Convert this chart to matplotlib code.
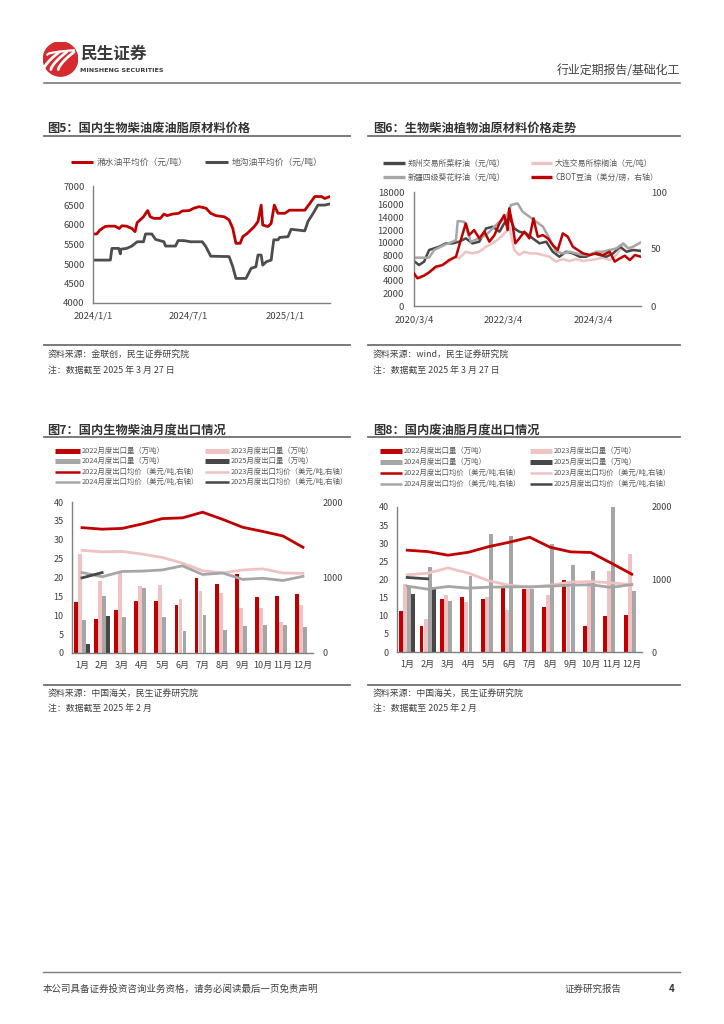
import numpy as np
import pandas as pd
import matplotlib
matplotlib.use("Agg")
import matplotlib.pyplot as plt
from matplotlib.lines import Line2D
from matplotlib.patches import Circle

plt.rcParams["font.family"] = ["Noto Sans CJK SC", "DejaVu Sans"]

RED = "#c00000"
PINK = "#efc3c3"
GRAY = "#a6a6a6"
DARK = "#474747"
TXT = "#404040"

# ---------------- 图5 data (元/吨) ----------------
red5_dates = ["2024-01-01", "2024-01-08", "2024-01-14", "2024-01-24", "2024-01-30", "2024-02-12",
              "2024-02-20", "2024-02-25", "2024-03-05", "2024-03-15", "2024-03-21", "2024-03-25",
              "2024-04-06", "2024-04-14", "2024-04-19", "2024-04-26", "2024-05-08", "2024-05-15",
              "2024-05-21", "2024-05-31", "2024-06-12", "2024-06-19", "2024-07-02", "2024-07-11",
              "2024-07-21", "2024-08-03", "2024-08-12", "2024-08-22", "2024-09-07", "2024-09-16",
              "2024-09-23", "2024-09-29", "2024-10-07", "2024-10-12", "2024-10-21", "2024-11-03",
              "2024-11-10", "2024-11-16", "2024-11-19", "2024-11-29", "2024-12-05", "2024-12-11",
              "2024-12-18", "2024-12-31", "2025-01-09", "2025-02-07", "2025-02-17", "2025-02-26",
              "2025-03-11", "2025-03-17", "2025-03-27"]
red5_vals = [5770, 5770, 5870, 5960, 5970, 5970, 5910, 5980, 5970, 5910,
             5830, 6060, 6210, 6370, 6210, 6170, 6170, 6280, 6240, 6280,
             6300, 6360, 6370, 6430, 6470, 6430, 6300, 6240, 6210, 6130,
             5910, 5530, 5530, 5700, 5790, 5960, 6090, 6510, 6000, 5960,
             6040, 6510, 6300, 6300, 6380, 6380, 6560, 6730, 6730, 6680, 6730]
dark5_dates = ["2024-01-01", "2024-02-03", "2024-02-06", "2024-02-19", "2024-02-22", "2024-02-23",
               "2024-03-05", "2024-03-15", "2024-03-25", "2024-04-06", "2024-04-10", "2024-04-22",
               "2024-04-29", "2024-05-15", "2024-05-18", "2024-06-06", "2024-06-11", "2024-06-22",
               "2024-07-05", "2024-07-27", "2024-08-03", "2024-08-12", "2024-09-16", "2024-09-23",
               "2024-09-29", "2024-10-18", "2024-10-28", "2024-11-06", "2024-11-10", "2024-11-16",
               "2024-11-19", "2024-11-26", "2024-12-05", "2024-12-10", "2024-12-18", "2024-12-21",
               "2025-01-06", "2025-01-12", "2025-02-07", "2025-02-13", "2025-02-23", "2025-03-04",
               "2025-03-17", "2025-03-27"]
dark5_vals = [5100, 5100, 5400, 5400, 5260, 5380, 5400, 5460, 5570, 5570,
              5770, 5770, 5630, 5570, 5460, 5460, 5600, 5600, 5570, 5570,
              5440, 5200, 5190, 4930, 4630, 4630, 4890, 4930, 5230, 5230,
              4970, 5060, 5100, 5620, 5620, 5680, 5700, 5890, 5850, 6090,
              6300, 6510, 6510, 6540]

# ---------------- 图6 data ----------------
zz_dates = ["2020-03-04", "2020-04-14", "2020-05-25", "2020-07-05", "2020-08-15", "2020-09-25",
            "2020-11-19", "2021-01-13", "2021-03-07", "2021-04-30", "2021-06-24", "2021-08-18",
            "2021-10-12", "2021-12-05", "2022-01-29", "2022-03-09", "2022-04-19", "2022-05-30",
            "2022-07-10", "2022-09-03", "2022-10-27", "2022-12-21", "2023-02-14", "2023-04-08",
            "2023-06-01", "2023-07-26", "2023-09-19", "2023-11-13", "2024-01-07", "2024-03-02",
            "2024-04-25", "2024-06-18", "2024-08-12", "2024-10-06", "2024-11-29", "2025-01-22",
            "2025-03-27"]
zz_vals = [7100, 6470, 7000, 8840, 9100, 9360, 9890, 9890, 10150, 10680,
           9890, 10150, 12250, 12520, 11730, 13040, 14100, 12250, 11730, 11470,
           10680, 9890, 10150, 8570, 7780, 8570, 8310, 7780, 7780, 8310,
           8050, 7780, 8310, 9360, 8570, 8840, 8680]
xj_dates = ["2020-03-04", "2020-07-05", "2020-08-15", "2020-11-05", "2021-01-13", "2021-02-09",
            "2021-02-23", "2021-04-17", "2021-05-14", "2021-06-10", "2021-08-18", "2021-10-12",
            "2021-12-05", "2022-01-29", "2022-03-23", "2022-05-03", "2022-06-26", "2022-08-06",
            "2022-09-30", "2022-11-24", "2023-01-18", "2023-03-12", "2023-05-05", "2023-06-29",
            "2023-08-22", "2023-10-16", "2023-12-10", "2024-02-04", "2024-03-28", "2024-05-22",
            "2024-07-15", "2024-09-08", "2024-11-02", "2024-12-12", "2025-01-22", "2025-03-27"]
xj_vals = [7630, 7630, 8840, 9630, 10150, 10420, 13410, 13310, 11730, 10150,
           10680, 11200, 12250, 13310, 13830, 15940, 16200, 14890, 14100, 13310,
           12520, 10680, 8570, 8310, 8570, 8310, 8050, 8050, 8570, 8570,
           8840, 9100, 9890, 9100, 9360, 10050]
dl_dates = ["2020-03-04", "2020-04-14", "2020-05-25", "2020-07-05", "2020-08-28", "2020-10-22",
            "2020-12-15", "2021-01-26", "2021-03-07", "2021-04-30", "2021-06-24", "2021-08-18",
            "2021-10-12", "2021-12-05", "2022-01-29", "2022-03-23", "2022-04-19", "2022-05-30",
            "2022-07-10", "2022-08-20", "2022-09-30", "2022-11-24", "2023-01-18", "2023-03-12",
            "2023-05-05", "2023-06-29", "2023-08-22", "2023-10-16", "2023-12-10", "2024-02-04",
            "2024-03-28", "2024-05-22", "2024-07-15", "2024-09-08", "2024-11-02", "2024-12-12",
            "2025-01-22", "2025-03-27"]
dl_vals = [5000, 4370, 4890, 5310, 5940, 6470, 7000, 7780, 7520, 8570,
           8310, 8570, 9360, 9890, 10680, 11730, 12520, 8840, 8050, 8570,
           8310, 8310, 8050, 7780, 7000, 7420, 7100, 7420, 7100, 7260,
           7420, 7630, 7260, 8050, 9730, 9100, 8840, 8840]
cbot_dates = ["2020-03-04", "2020-04-01", "2020-05-25", "2020-07-05", "2020-08-28", "2020-10-22",
              "2020-12-15", "2021-02-09", "2021-03-20", "2021-04-30", "2021-05-27", "2021-07-07",
              "2021-08-18", "2021-09-28", "2021-11-08", "2021-12-19", "2022-01-29", "2022-03-09",
              "2022-04-06", "2022-04-19", "2022-05-16", "2022-06-07", "2022-07-10", "2022-08-20",
              "2022-09-30", "2022-11-02", "2022-12-07", "2023-01-18", "2023-02-28", "2023-04-08",
              "2023-05-19", "2023-06-29", "2023-08-08", "2023-09-19", "2023-10-30", "2023-12-10",
              "2024-02-04", "2024-03-28", "2024-05-22", "2024-07-15", "2024-08-25", "2024-10-06",
              "2024-11-15", "2024-12-26", "2025-02-05", "2025-03-27"]
cbot_vals = [28.6, 24.3, 26.6, 29.5, 34.5, 35.9, 40.3, 43.2, 57.9, 72.5,
             62.2, 66.6, 59.3, 65.2, 56.4, 62.2, 72.5, 79.8, 66.6, 85.6,
             71.0, 55.0, 59.3, 65.2, 59.3, 76.9, 60.8, 62.2, 59.3, 53.5,
             49.1, 63.7, 60.8, 52.0, 49.1, 46.2, 44.7, 46.2, 44.7, 47.6,
             38.9, 41.8, 44.1, 40.3, 44.7, 43.2]

# ---------------- 图7 / 图8 data ----------------
months = [f"{i}月" for i in range(1, 13)]
years = ["2022", "2023", "2024", "2025"]

bio_qty = {
    "2022": [13.5, 9.0, 11.5, 13.7, 13.7, 12.8, 19.8, 18.3, 21.0, 14.8, 15.1, 15.7],
    "2023": [26.2, 19.2, 21.3, 17.8, 18.1, 14.4, 16.3, 16.0, 11.9, 11.8, 8.3, 12.8],
    "2024": [8.8, 15.0, 9.5, 17.3, 9.5, 5.7, 10.0, 6.0, 7.1, 7.5, 7.3, 7.0],
    "2025": [2.5, 9.8],
}
bio_price = {
    "2022": [1660, 1640, 1650, 1710, 1780, 1790, 1865, 1770, 1665, 1610, 1550, 1400],
    "2023": [1360, 1340, 1345, 1310, 1265, 1190, 1090, 1060, 1100, 1115, 1060, 1055],
    "2024": [1065, 1010, 1080, 1085, 1100, 1155, 1040, 1060, 975, 990, 960, 1015],
    "2025": [995, 1065],
}
waste_qty = {
    "2022": [11.2, 7.3, 14.7, 15.3, 14.5, 17.6, 17.3, 12.4, 19.8, 7.2, 9.9, 10.3],
    "2023": [18.7, 9.2, 15.7, 13.9, 15.1, 11.7, 17.3, 15.7, 19.4, 19.4, 22.4, 27.1],
    "2024": [18.2, 23.5, 14.0, 20.9, 32.6, 32.0, 17.3, 29.9, 23.9, 22.4, 40.3, 16.9],
    "2025": [16.1, 17.9],
}
waste_price = {
    "2022": [1404, 1385, 1335, 1376, 1454, 1514, 1583, 1445, 1381, 1372, 1225, 1073],
    "2023": [1064, 1087, 1160, 1087, 982, 922, 894, 922, 963, 972, 954, 927],
    "2024": [908, 867, 904, 881, 894, 899, 899, 908, 922, 927, 890, 931],
    "2025": [1028, 1009],
}
year_colors = {"2022": RED, "2023": PINK, "2024": GRAY, "2025": DARK}

W, H = 724, 1024
fig = plt.figure(figsize=(W / 100, H / 100), dpi=100)


def box(l, t, r, b):
    return [l / W, 1 - b / H, (r - l) / W, (b - t) / H]


def text(x, y, s, **kw):
    kw.setdefault("va", "center")
    fig.text(x / W, 1 - y / H, s, **kw)


def hline(x0, x1, y, color="#6f6f6f", lw=1.3):
    fig.add_artist(Line2D([x0 / W, x1 / W], [1 - y / H] * 2, color=color, lw=lw))


def legend_item(x0, x1, y, color, lw, label, size, gap=3):
    fig.add_artist(Line2D([x0 / W, x1 / W], [1 - y / H] * 2, color=color, lw=lw,
                          solid_capstyle="butt"))
    text(x1 + gap, y, label, fontsize=size, color="#595959")


def style(ax, size=6.6, pad=7):
    for s in ["top", "right"]:
        ax.spines[s].set_visible(False)
    for s in ["left", "bottom"]:
        ax.spines[s].set_color("#808080")
        ax.spines[s].set_linewidth(1.0)
    ax.tick_params(length=0, labelsize=size, labelcolor=TXT, pad=pad)


# ---------------- header ----------------
logo = fig.add_axes(box(43, 41, 78, 77))
logo.set_xlim(-1, 1)
logo.set_ylim(-1, 1)
logo.set_aspect("equal")
logo.axis("off")
logo.add_patch(Circle((0, 0), 0.98, color="#d52b2f"))
t = np.linspace(0, 1, 30)
for off in [-0.42, 0.0, 0.42]:
    logo.plot(-0.55 + 0.9 * t + off, -0.6 + 1.0 * t ** 0.7, color="white", lw=2.0,
              solid_capstyle="round")
logo.plot(-0.75 + 1.5 * t, 0.25 + 0.25 * t ** 0.5, color="white", lw=1.6)
text(80, 54, "民生证券", fontsize=12, fontweight="bold", color="#3a3a3a")
text(80, 71, "MINSHENG SECURITIES", fontsize=4.6, fontweight="bold", color="#3a3a3a",
     family="DejaVu Sans")
text(680, 71, "行业定期报告/基础化工", fontsize=8.6, color="#444444", ha="right")
hline(44, 680, 83, color="#7a7a7a", lw=1.2)

# ---------------- titles ----------------
text(47, 128, "图5：国内生物柴油废油脂原材料价格", fontsize=8.8, fontweight="bold", color="#333333")
hline(44, 350, 136)
text(373, 128, "图6：生物柴油植物油原材料价格走势", fontsize=8.8, fontweight="bold", color="#333333")
hline(368, 680, 136)
text(47, 430, "图7：国内生物柴油月度出口情况", fontsize=8.8, fontweight="bold", color="#333333")
hline(44, 350, 437)
text(373, 430, "图8：国内废油脂月度出口情况", fontsize=8.8, fontweight="bold", color="#333333")
hline(368, 680, 437)

# ---------------- 图5 ----------------
ax5 = fig.add_axes(box(93, 186, 330, 303))
ax5.plot(pd.to_datetime(red5_dates), red5_vals, color=RED, lw=2.0)
ax5.plot(pd.to_datetime(dark5_dates), dark5_vals, color="#4d4d4d", lw=2.0)
ax5.set_ylim(4000, 7000)
ax5.set_yticks(range(4000, 7001, 500))
ax5.set_xlim(pd.Timestamp("2024-01-01"), pd.Timestamp("2025-03-27"))
ax5.set_xticks(pd.to_datetime(["2024-01-01", "2024-07-01", "2025-01-01"]))
ax5.set_xticklabels(["2024/1/1", "2024/7/1", "2025/1/1"])
style(ax5, size=6.8, pad=6)
legend_item(71, 93, 162, RED, 2.2, "潲水油平均价（元/吨）", 6.3, gap=4)
legend_item(205, 228, 162, "#4d4d4d", 2.2, "地沟油平均价（元/吨）", 6.3, gap=4)

# ---------------- 图6 ----------------
ax6 = fig.add_axes(box(414, 192, 641, 306))
ax6.plot(pd.to_datetime(dl_dates), dl_vals, color=PINK, lw=1.8)
ax6.plot(pd.to_datetime(zz_dates), zz_vals, color=DARK, lw=1.8)
ax6.plot(pd.to_datetime(xj_dates), xj_vals, color=GRAY, lw=1.8)
ax6.set_ylim(0, 18000)
ax6.set_yticks(range(0, 18001, 2000))
ax6.set_xlim(pd.Timestamp("2020-03-04"), pd.Timestamp("2025-03-27"))
ax6.set_xticks(pd.to_datetime(["2020-03-04", "2022-03-04", "2024-03-04"]))
ax6.set_xticklabels(["2020/3/4", "2022/3/4", "2024/3/4"])
style(ax6, size=6.8, pad=7)
ax6r = ax6.twinx()
ax6r.plot(pd.to_datetime(cbot_dates), cbot_vals, color=RED, lw=1.8)
ax6r.set_ylim(0, 100)
ax6r.set_yticks([0, 50, 100])
for s in ax6r.spines.values():
    s.set_visible(False)
ax6r.tick_params(length=0, labelsize=6.8, labelcolor=TXT, pad=7)
legend_item(383, 405, 163, DARK, 2.4, "郑州交易所菜籽油（元/吨）", 5.7)
legend_item(531, 552, 163, PINK, 2.4, "大连交易所棕榈油（元/吨）", 5.7)
legend_item(383, 405, 177, GRAY, 2.4, "新疆四级葵花籽油（元/吨）", 5.7)
legend_item(531, 552, 177, RED, 2.4, "CBOT豆油（美分/磅，右轴）", 5.7)


# ---------------- 图7 / 图8 ----------------
def export_chart(rect, qty, price, leg_x, leg_y):
    ax = fig.add_axes(box(*rect))
    x = np.arange(12)
    offsets = [-0.3, -0.1, 0.1, 0.3]
    for yr, off in zip(years, offsets):
        vals = qty[yr]
        ax.bar(x[:len(vals)] + off, vals, 0.19, color=year_colors[yr], zorder=2)
    ax.set_ylim(0, 40)
    ax.set_yticks(range(0, 41, 5))
    ax.set_xlim(-0.5, 11.5)
    ax.set_xticks(x)
    ax.set_xticklabels(months)
    style(ax, size=6.5, pad=6)
    axr = ax.twinx()
    for yr in years:
        vals = price[yr]
        axr.plot(x[:len(vals)], vals, color=year_colors[yr], lw=2.0)
    axr.set_ylim(0, 2000)
    axr.set_yticks([0, 1000, 2000])
    for s in axr.spines.values():
        s.set_visible(False)
    axr.tick_params(length=0, labelsize=6.5, labelcolor=TXT, pad=7)

    c1, c2 = leg_x
    for i, yr in enumerate(years):
        col = c1 if i % 2 == 0 else c2
        row = leg_y[i // 2]
        legend_item(col[0], col[1], row, year_colors[yr], 3.6, f"{yr}月度出口量（万吨）", 5.3, gap=2)
    for i, yr in enumerate(years):
        col = c1 if i % 2 == 0 else c2
        row = leg_y[2 + i // 2]
        legend_item(col[0], col[1], row, year_colors[yr], 1.8, f"{yr}月度出口均价（美元/吨,右轴）", 5.3, gap=2)
    return ax


export_chart((72, 502, 313, 653), bio_qty, bio_price, ((55, 80), (205, 229)), [451, 461, 472, 482])
export_chart((397, 507, 642, 652), waste_qty, waste_price, ((380, 402), (530, 552)), [451, 462, 473, 484])

# ---------------- sources ----------------
hline(44, 350, 345)
hline(368, 680, 345)
text(48, 355, "资料来源：金联创，民生证券研究院", fontsize=6.4, color="#404040")
text(48, 371, "注：数据截至 2025 年 3 月 27 日", fontsize=6.4, color="#404040")
text(373, 355, "资料来源：wind，民生证券研究院", fontsize=6.4, color="#404040")
text(373, 371, "注：数据截至 2025 年 3 月 27 日", fontsize=6.4, color="#404040")

hline(44, 350, 685)
hline(368, 680, 685)
text(48, 694, "资料来源：中国海关，民生证券研究院", fontsize=6.4, color="#404040")
text(48, 709, "注：数据截至 2025 年 2 月", fontsize=6.4, color="#404040")
text(373, 694, "资料来源：中国海关，民生证券研究院", fontsize=6.4, color="#404040")
text(373, 709, "注：数据截至 2025 年 2 月", fontsize=6.4, color="#404040")

# ---------------- footer ----------------
hline(43, 680, 972, color="#7a7a7a", lw=1.0)
text(43, 989, "本公司具备证券投资咨询业务资格，请务必阅读最后一页免责声明", fontsize=6.8, color="#404040")
text(565, 989, "证券研究报告", fontsize=6.8, color="#404040")
text(672, 989, "4", fontsize=7, fontweight="bold", color="#333333", ha="center")

fig.savefig("out.png", dpi=100)
